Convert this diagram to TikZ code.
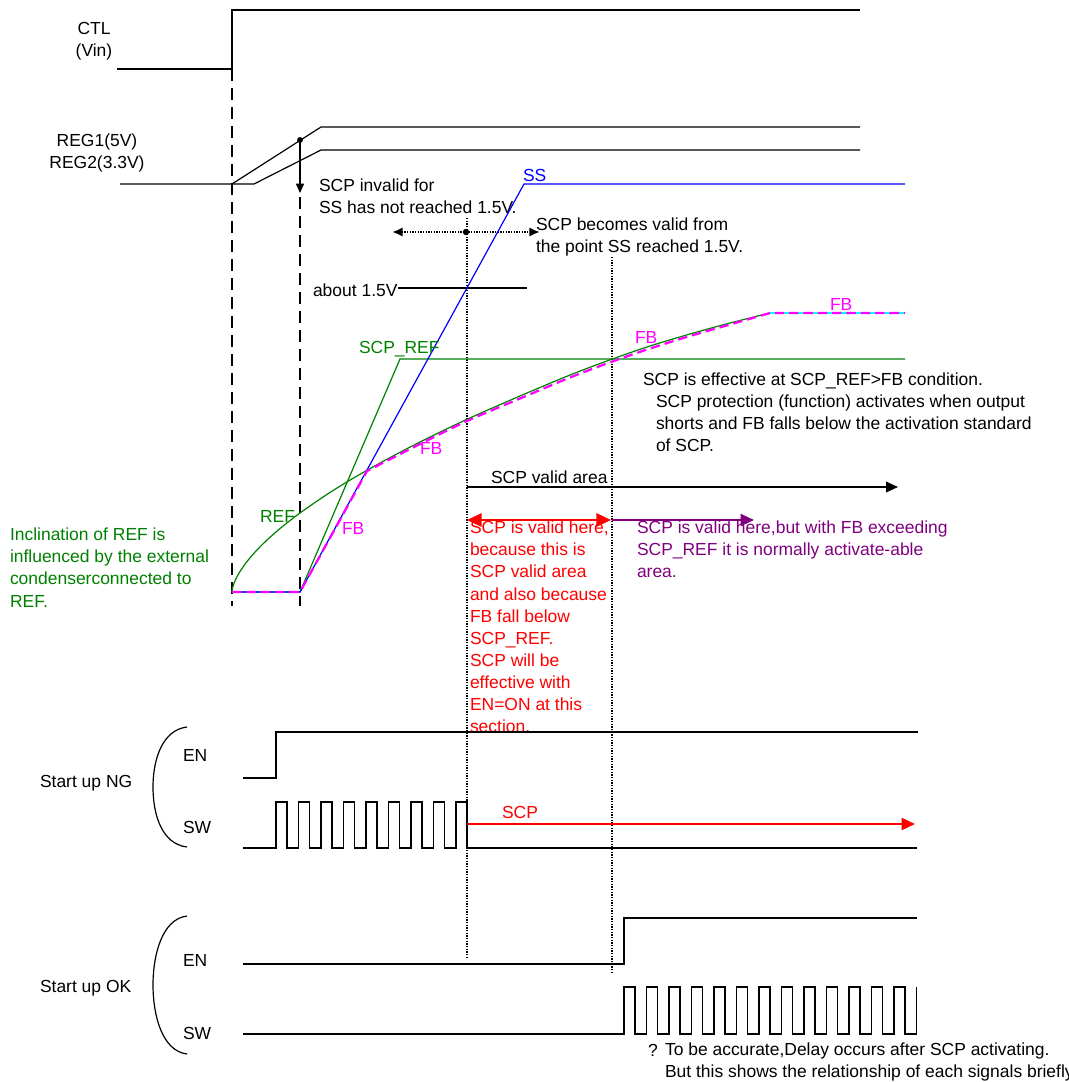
\documentclass[tikz,border=0pt]{standalone}
\usepackage{fontspec}
\setmainfont{Liberation Sans}
\usetikzlibrary{arrows.meta}
\definecolor{scpgreen}{RGB}{0,128,0}
\definecolor{scppurple}{RGB}{128,0,128}
\definecolor{fbmag}{RGB}{255,0,255}
\definecolor{fbcyan}{RGB}{0,255,255}
\definecolor{ssblue}{RGB}{0,0,255}
\definecolor{scpred}{RGB}{255,0,0}
\begin{document}
\begin{tikzpicture}[x=0.75pt,y=-0.75pt,
  txt/.style={font=\fontsize{13.1}{16.6}\selectfont, inner sep=0pt, outer sep=0pt},
  lbl/.style={txt, anchor=base west},
  blk/.style={txt, anchor=north west, align=left},
  sig/.style={line width=0.9pt, black},
  vdash/.style={line width=1.7pt, dash pattern=on 9pt off 5.25pt},
  vdot/.style={line width=1.3pt, dash pattern=on 1.1pt off 0.9pt},
  tri/.style={-{Triangle[length=10pt,width=9pt]}},
  fbline/.style={fbmag, line width=1.7pt, dash pattern=on 7pt off 3.75pt}
]
\useasboundingbox (0,0) rectangle (1068,1082);

% ---- CTL and REG ----
\node[txt, align=center, anchor=north] (ctl) at (94,22) {CTL\\(Vin)};
\draw[sig] (117,69) -- (232,69) -- (232,10) -- (860,10);
\node[txt, align=center, anchor=north] (reg) at (97,134) {REG1(5V)\\REG2(3.3V)};
\draw[sig] (120,184) -- (254,184) -- (321,150) -- (860,150);
\draw[sig] (232,184) -- (321,127) -- (860,127);

% vertical marker lines
\draw[vdash] (232,69) -- (232,606);
\coordinate (dotA) at (300,140);
\fill (dotA) circle[radius=2.2pt];
\draw[line width=1.1pt, -{Triangle[length=7pt,width=6pt]}] (dotA) -- (300,193);
\draw[vdash] (300,197) -- (300,606);

\draw[vdot] (467,218) -- (467,957);
\draw[vdot] (612,257) -- (612,973);

% SCP invalid / valid annotations
\node[blk] (inval) at (319,179) {SCP invalid for\\SS has not reached 1.5V.};
\coordinate (dotB) at (466,232);
\draw[line width=1.8pt, dash pattern=on 1.1pt off 0.9pt,
  {Latex[length=8pt,width=7pt]}-{Latex[length=8pt,width=7pt]}] (392,232) -- (540,232);
\fill (dotB) circle[radius=2.4pt];
\node[blk] (valid) at (536,218) {SCP becomes valid from\\the point SS reached 1.5V.};

\node[lbl] (about) at (313,296) {about 1.5V};
\draw[line width=0.9pt] (398,288) -- (527,288);

% ---- analog curves ----
\draw[scpgreen, line width=0.9pt] plot[smooth, tension=0.5] coordinates {
 (232,592) (232.5,588) (234,583.4) (236,578.7) (240,571.5) (246,562.8) (255,552.1)
 (267,540) (282,526.9) (300,513) (325,495.7) (350,480.1) (380,463) (420,442)
 (467,419.3) (520,396) (570,375) (611,359.5) (650,346) (690,334) (730,323) (770,313)};
\draw[scpgreen, line width=0.9pt] (232,592) -- (300,592) -- (400,359) -- (905,359);
\draw[ssblue, line width=0.9pt] (232,592) -- (300,592) -- (524,184) -- (905,184);
\draw[fbcyan, line width=1.5pt] (770,313) -- (905,313);
\draw[fbline] (232,592) -- (300,592) -- plot[smooth, tension=0.5] coordinates {
 (367,471) (420,444) (467,421) (520,398.5) (570,377.5) (611,362) (650,348.5)
 (690,336) (730,324.5) (770,313)} -- (905,313);

\node[lbl, text=ssblue] (ss) at (523,181) {SS};
\node[lbl, text=scpgreen] (scpref) at (359,353) {SCP\_REF};
\node[lbl, text=scpgreen] (ref) at (260,522) {REF};
\node[lbl, text=fbmag] (fb1) at (342,534) {FB};
\node[lbl, text=fbmag] (fb2) at (420,454) {FB};
\node[lbl, text=fbmag] (fb3) at (635,343) {FB};
\node[lbl, text=fbmag] (fb4) at (830,310) {FB};

\node[lbl] (eff1) at (643,385) {SCP is effective at SCP\_REF>FB condition.};
\node[blk] (eff2) at (656,395) {SCP protection (function) activates when output\\shorts and FB falls below the activation standard\\of SCP.};

\node[lbl] (area) at (491,483) {SCP valid area};
\draw[line width=1.1pt, -{Triangle[length=9pt,width=8pt]}] (467,487) -- (898,487);

\draw[scpred, line width=1.5pt, {Triangle[length=11pt,width=10pt]}-{Triangle[length=11pt,width=10pt]}] (467,520) -- (611,520);
\draw[scppurple, line width=1.5pt, tri] (612,520) -- (754,520);

\node[blk, text=scpred] (redtxt) at (470,521) {SCP is valid here,\\because this is\\SCP valid area\\and also because\\FB fall below\\SCP\_REF.\\SCP will be\\effective with\\EN=ON at this\\section.};
\node[blk, text=scppurple] (purtxt) at (637,521) {SCP is valid here,but with FB exceeding\\SCP\_REF it is normally activate-able\\area.};
\node[blk, text=scpgreen] (incl) at (10,528) {Inclination of REF is\\influenced by the external\\condenserconnected to\\REF.};

% ---- Start up NG ----
\node[lbl] (ng) at (40,787) {Start up NG};
\draw[line width=0.9pt] (187,727) .. controls (162,730) and (153,760) .. (153,787) .. controls (153,815) and (162,844) .. (187,847);
\node[lbl] (en1) at (183,761) {EN};
\node[lbl] (sw1) at (183,833) {SW};
\draw[sig] (243,778) -- (276,778) -- (276,732) -- (918,732);
\draw[sig] (243,848) foreach \k in {0,...,8} {
  -- ({276+22.5*\k},848) -- ({276+22.5*\k},802) -- ({287+22.5*\k},802) -- ({287+22.5*\k},848) } -- (917,848);
\draw[scpred, line width=1.6pt, tri] (467,824) -- (915,824);
\node[lbl, text=scpred] (scp) at (502,818) {SCP};

% ---- Start up OK ----
\node[lbl] (ok) at (40,992) {Start up OK};
\draw[line width=0.9pt] (187,916) .. controls (162,919) and (153,955) .. (153,985) .. controls (153,1015) and (162,1051) .. (187,1054);
\node[lbl] (en2) at (183,966) {EN};
\node[lbl] (sw2) at (183,1039) {SW};
\draw[sig] (243,964) -- (624,964) -- (624,918) -- (917,918);
\draw[sig] (243,1034) foreach \k in {0,...,12} {
  -- ({624+22.5*\k},1034) -- ({624+22.5*\k},987) -- ({635+22.5*\k},987) -- ({635+22.5*\k},1034) } -- (916.5,1034) -- (916.5,987);

\node[lbl] (q) at (648,1056) {?};
\node[blk] (note) at (665,1043) {To be accurate,Delay occurs after SCP activating.\\But this shows the relationship of each signals briefly};
\end{tikzpicture}
\end{document}
